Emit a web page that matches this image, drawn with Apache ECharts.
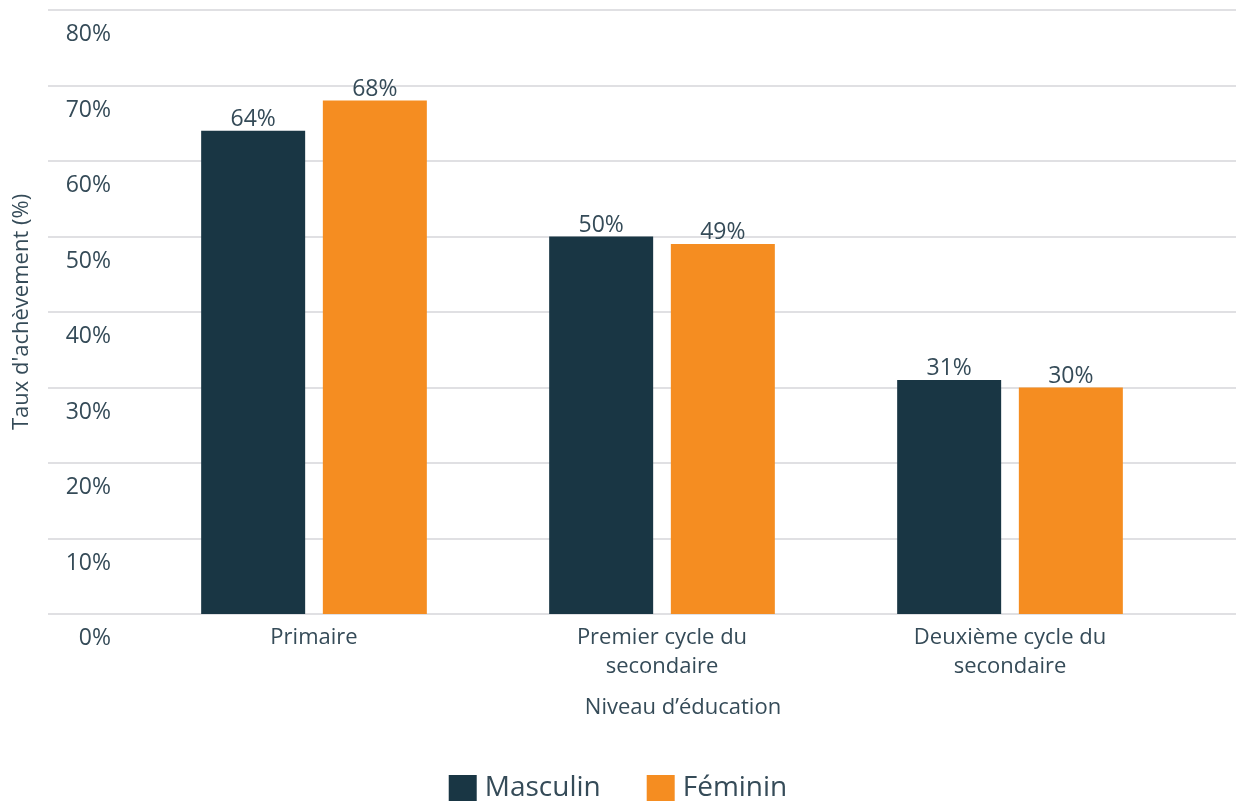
<!DOCTYPE html>
<html><head><meta charset="utf-8">
<script src="https://cdn.jsdelivr.net/npm/echarts@6/dist/echarts.min.js"></script>
<style>html,body{margin:0;padding:0;background:#fff}#c{width:1236px;height:803px}</style>
</head><body><div id="c"></div>
<script>
const categories = ['Primaire', 'Premier cycle du\nsecondaire', 'Deuxième cycle du\nsecondaire'];
const masculin = [64, 50, 31];
const feminin = [68, 49, 30];
const seriesNames = ['Masculin', 'Féminin'];
const yTitle = "Taux d'achèvement (%)";
const xTitle = 'Niveau d’éducation';

const FONT = '"Open Sans", sans-serif';
const TXT = '#354b58';
const chart = echarts.init(document.getElementById('c'));
chart.setOption({
  animation: false,
  textStyle: { fontFamily: FONT },
  title: { text: xTitle, left: 678, top: 692, textAlign: 'center',
    textStyle: { fontFamily: FONT, fontSize: 22, fontWeight: 'normal', color: TXT } },
  legend: { data: seriesNames, bottom: -4, left: 'center', itemWidth: 28, itemHeight: 26, itemGap: 46,
    icon: 'rect', textStyle: { fontFamily: FONT, fontSize: 28, color: TXT, padding: [0, 0, 0, 3] } },
  grid: [
    { left: 48, right: 0, top: 10, bottom: 189 },
    { left: 140, right: 52, top: 10, bottom: 189 }
  ],
  xAxis: [
    { gridIndex: 0, type: 'value', show: false, min: 0, max: 1 },
    { gridIndex: 1, type: 'category', data: categories,
      axisLine: { show: false }, axisTick: { show: false },
      axisLabel: { fontFamily: FONT, fontSize: 22, color: TXT, lineHeight: 29, margin: 9 } }
  ],
  yAxis: [
    { gridIndex: 0, type: 'value', min: 0, max: 80, interval: 10,
      name: yTitle, nameLocation: 'middle', nameGap: 15,
      nameTextStyle: { fontFamily: FONT, fontSize: 22, color: TXT },
      axisLine: { show: false }, axisTick: { show: false },
      splitLine: { lineStyle: { color: '#d6d6da', width: 1.5 } },
      axisLabel: { inside: true, margin: 63, align: 'right', verticalAlign: 'top',
        padding: [13, 0, 0, 0], fontFamily: FONT, fontSize: 23, color: TXT,
        formatter: v => v + '%' } },
    { gridIndex: 1, type: 'value', min: 0, max: 80, show: false, splitLine: { show: false } }
  ],
  series: [
    { name: seriesNames[0], type: 'bar', xAxisIndex: 1, yAxisIndex: 1, data: masculin,
      barWidth: 104, barGap: '17%', itemStyle: { color: '#193644' },
      label: { show: true, position: 'top', distance: 0, fontFamily: FONT, fontSize: 23, color: TXT, formatter: '{c}%' } },
    { name: seriesNames[1], type: 'bar', xAxisIndex: 1, yAxisIndex: 1, data: feminin,
      barWidth: 104, barGap: '17%', itemStyle: { color: '#f58d21' },
      label: { show: true, position: 'top', distance: 0, fontFamily: FONT, fontSize: 23, color: TXT, formatter: '{c}%' } }
  ]
});
</script></body></html>
